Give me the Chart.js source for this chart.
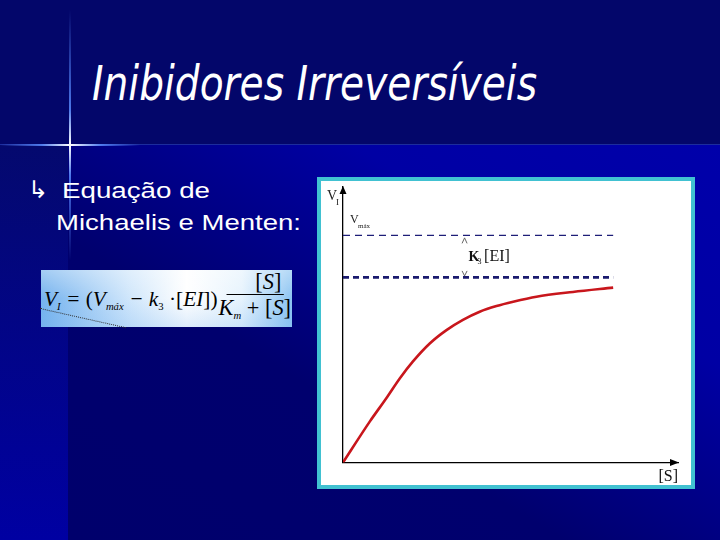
<!DOCTYPE html>
<html><head><meta charset="utf-8">
<script src="https://cdn.jsdelivr.net/npm/chart.js@4.4.0/dist/chart.umd.min.js"></script>
<style>
html,body{margin:0;padding:0;}
body{width:720px;height:540px;position:relative;overflow:hidden;background:#00008c;font-family:"Liberation Sans",Arial,sans-serif;}
.bg{position:absolute;}
#top{left:0;top:0;width:720px;height:145px;background:#03066a;}
#low{left:68px;top:145px;width:652px;height:395px;background:linear-gradient(to top right,#00006c 0%,#00006e 38%,#0000a4 72%,#0000aa 100%);}
#strip{left:0;top:145px;width:68px;height:395px;background:linear-gradient(to bottom,#04096e,#0000a2);}
#seam{left:0;top:144px;width:720px;height:1px;background:rgba(60,90,220,0.45);}
#vline{left:69px;top:10px;width:2px;height:250px;background:linear-gradient(to bottom,rgba(60,100,255,0),rgba(90,140,255,0.85) 40%,#ffffff 54%,rgba(90,140,255,0.85) 66%,rgba(60,100,255,0));}
#hline{left:0;top:144px;width:140px;height:2px;background:linear-gradient(to right,rgba(60,100,255,0),rgba(90,140,255,0.85) 30%,#ffffff 50%,rgba(90,140,255,0.85) 72%,rgba(60,100,255,0));}
.txt{position:absolute;white-space:nowrap;transform-origin:0 0;color:#fff;}
#title{left:92px;top:59px;font-family:"DejaVu Sans",sans-serif;font-style:italic;font-size:48px;line-height:48px;}
#b1{left:62px;top:178px;font-size:22px;line-height:26px;}
#b2{left:56px;top:210px;font-size:22px;line-height:26px;}
#arrow{left:28px;top:176px;font-size:24px;line-height:28px;font-family:"DejaVu Sans",sans-serif;}
#fbox{position:absolute;left:41px;top:270px;width:251px;height:57px;
 background:linear-gradient(to right,#74b2ee 0%,#cfe6fb 35%,#ffffff 58%,#e6f3fd 80%,#8cc4f2 100%);}
#fshade{position:absolute;left:0;top:0;width:100%;height:100%;background:linear-gradient(to bottom,rgba(255,255,255,0.35),rgba(255,255,255,0) 50%,rgba(120,180,240,0.25));}
#formula{position:absolute;left:44px;top:270px;height:57px;display:flex;align-items:center;
 font-family:"Liberation Serif","Times New Roman",serif;font-style:italic;font-size:22px;color:#000;white-space:nowrap;transform-origin:0 0;}
#formula sub{font-size:11px;vertical-align:-4px;}
.up{font-style:normal;}
.frac{display:inline-flex;flex-direction:column;align-items:center;margin-left:1px;}
.num{border-bottom:1px solid #000;padding:0 2px 0 30px;line-height:24px;font-size:23px;}
.den{line-height:26px;font-size:23px;}
#dots{position:absolute;left:40px;top:308px;width:88px;height:0;border-top:1px dotted #333;transform-origin:0 0;transform:rotate(12.6deg);}
#frame{position:absolute;left:317px;top:177px;width:370px;height:304px;border:4px solid #41c1d1;background:#fff;}
#chart{display:block;}
</style>
</head>
<body>
<div class="bg" id="top"></div>
<div class="bg" id="low"></div>
<div class="bg" id="strip"></div>
<div class="bg" id="seam"></div>
<div class="bg" id="vline"></div>
<div class="bg" id="hline"></div>

<div class="txt" id="title">Inibidores Irreversíveis</div>
<div class="txt" id="arrow">↳</div>
<div class="txt" id="b1">Equação de</div>
<div class="txt" id="b2">Michaelis e Menten:</div>

<div id="fbox"><div id="fshade"></div></div>
<div id="formula"><span>V<sub>I</sub> = <span class="up">(</span>V<sub>máx</sub> − k<sub class="up">3</sub> <span class="up">·[</span>EI<span class="up">])</span></span><span class="frac"><span class="num"><span class="up">[</span>S<span class="up">]</span></span><span class="den">K<sub>m</sub> <span class="up">+ [</span>S<span class="up">]</span></span></span></div>
<div id="dots"></div>

<div id="frame"><canvas id="chart" width="370" height="304"></canvas></div>

<script>
// ---- data ----
const sConc = [0, 9.9, 16.1, 21.0, 25.9, 32.1, 38.3, 44.4, 50.6, 56.8, 63.0, 71.6, 85.1, 100];
const vInib = [0, 0.180, 0.284, 0.370, 0.445, 0.524, 0.583, 0.628, 0.664, 0.689, 0.708, 0.730, 0.751, 0.770];
const lineSpan = [0, 100];
const vmaxLevel = [1.0, 1.0];
const vmaxInibLevel = [0.815, 0.815];
const xAxisMax = 124;
const yAxisMax = 1.213;
const gapLabelX = 45;
const labels = { yAxis: ['V', 'I'], vmax: ['V', 'máx'], gap: ['K', '3', '[EI]'], xAxis: '[S]' };

// fit text widths
function fit(id, w) {
  const el = document.getElementById(id);
  const r = el.getBoundingClientRect().width;
  el.style.transform = 'scaleX(' + (w / r) + ')';
}
fit('title', 445);
fit('b1', 148);
fit('b2', 245);
fit('formula', 247);

const pts = (xs, ys) => xs.map((v, i) => ({ x: v, y: ys[i] }));

const annot = {
  id: 'annot',
  afterDraw(chart) {
    const { ctx, scales: { x, y } } = chart;
    const x0 = x.getPixelForValue(0), y0 = y.getPixelForValue(0);
    const yTop = y.getPixelForValue(yAxisMax), xEnd = x.getPixelForValue(xAxisMax);
    const yV = y.getPixelForValue(vmaxLevel[0]), yI = y.getPixelForValue(vmaxInibLevel[0]);
    const gx = x.getPixelForValue(gapLabelX);
    ctx.save();
    ctx.fillStyle = '#000';
    // arrow heads
    ctx.beginPath(); ctx.moveTo(x0, yTop - 1); ctx.lineTo(x0 - 3.5, yTop + 7); ctx.lineTo(x0 + 3.5, yTop + 7); ctx.closePath(); ctx.fill();
    ctx.beginPath(); ctx.moveTo(xEnd + 1, y0); ctx.lineTo(xEnd - 8, y0 - 3.5); ctx.lineTo(xEnd - 8, y0 + 3.5); ctx.closePath(); ctx.fill();
    ctx.textBaseline = 'alphabetic';
    ctx.fillStyle = '#222';
    // V_I
    ctx.font = '14px "Liberation Serif"';
    ctx.fillText(labels.yAxis[0], x0 - 16, yTop + 13);
    ctx.font = '9px "Liberation Serif"';
    ctx.fillText(labels.yAxis[1], x0 - 7, yTop + 18);
    // V_max
    ctx.font = '12px "Liberation Serif"';
    ctx.fillText(labels.vmax[0], x0 + 7, yV - 12);
    ctx.font = '7px "Liberation Serif"';
    ctx.fillText(labels.vmax[1], x0 + 15, yV - 7);
    // carets
    ctx.strokeStyle = '#555'; ctx.lineWidth = 0.9;
    ctx.beginPath(); ctx.moveTo(gx - 2.5, yV + 8); ctx.lineTo(gx, yV + 2.5); ctx.lineTo(gx + 2.5, yV + 8); ctx.stroke();
    ctx.beginPath(); ctx.moveTo(gx - 2.5, yI - 6.5); ctx.lineTo(gx, yI - 1.5); ctx.lineTo(gx + 2.5, yI - 6.5); ctx.stroke();
    // K3[EI]
    const mid = (yV + yI) / 2 + 5;
    ctx.fillStyle = '#111';
    ctx.font = 'bold 14px "Liberation Serif"';
    ctx.fillText(labels.gap[0], gx + 4, mid);
    ctx.font = '8px "Liberation Serif"';
    ctx.fillText(labels.gap[1], gx + 13, mid + 3);
    ctx.font = '16px "Liberation Serif"';
    ctx.fillText(labels.gap[2], gx + 19.5, mid);
    // [S]
    ctx.textAlign = 'right';
    ctx.font = '16px "Liberation Serif"';
    ctx.fillText(labels.xAxis, xEnd, y0 + 18);
    ctx.restore();
  }
};

new Chart(document.getElementById('chart'), {
  type: 'line',
  data: {
    datasets: [
      { data: pts(lineSpan, vmaxLevel), borderColor: '#1e1e78', borderWidth: 1.2, borderDash: [7, 5], pointRadius: 0, fill: false },
      { data: pts(lineSpan, vmaxInibLevel), borderColor: '#1a1a6e', borderWidth: 2.6, borderDash: [6, 4], pointRadius: 0, fill: false },
      { data: pts(sConc, vInib), borderColor: '#c8161c', borderWidth: 2.6, pointRadius: 0, fill: false, tension: 0.4, cubicInterpolationMode: 'monotone' }
    ]
  },
  options: {
    responsive: false,
    animation: false,
    events: [],
    layout: { padding: { left: 22, right: 13, top: 6, bottom: 22.5 } },
    plugins: { legend: { display: false }, tooltip: { enabled: false } },
    scales: {
      x: { type: 'linear', min: 0, max: xAxisMax, grid: { display: false, drawTicks: false }, ticks: { display: false },
           border: { display: true, color: '#000', width: 1.3 }, afterFit(s) { s.height = 0; } },
      y: { type: 'linear', min: 0, max: yAxisMax, grid: { display: false, drawTicks: false }, ticks: { display: false },
           border: { display: true, color: '#000', width: 1.3 }, afterFit(s) { s.width = 0; } }
    }
  },
  plugins: [annot]
});
</script>
</body></html>
